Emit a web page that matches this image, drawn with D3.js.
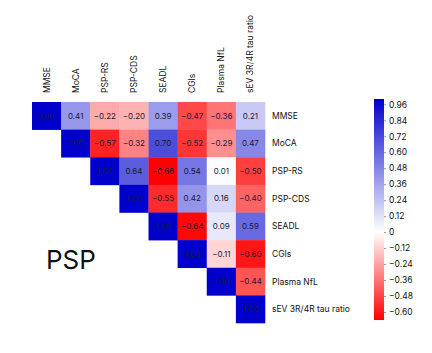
<!DOCTYPE html>
<html>
<head>
<meta charset="utf-8">
<script src="https://cdn.jsdelivr.net/npm/d3@7"></script>
<style>
  body { margin: 0; background: #fff; }
  text { font-family: Inter, "Liberation Sans", sans-serif; }
</style>
</head>
<body>
<svg width="432" height="353"></svg>
<script>
// variables in order
const vars = ['MMSE', 'MoCA', 'PSP-RS', 'PSP-CDS', 'SEADL', 'CGIs', 'Plasma NfL', 'sEV 3R/4R tau ratio'];

// upper triangle rows (row i starts at column i)
const corrRows = [
    [1.00, 0.41, -0.22, -0.20, 0.39, -0.47, -0.36, 0.21],
    [1.00, -0.57, -0.32, 0.70, -0.52, -0.29, 0.47],
    [1.00, 0.64, -0.66, 0.54, 0.01, -0.50],
    [1.00, -0.55, 0.42, 0.16, -0.40],
    [1.00, -0.64, 0.09, 0.59],
    [1.00, -0.11, -0.60],
    [1.00, -0.44],
    [1.00]
];

const cbTicks = [0.96, 0.84, 0.72, 0.60, 0.48, 0.36, 0.24, 0.12, 0, -0.12, -0.24, -0.36, -0.48, -0.60];

let svg = d3.select('svg');

let cells = [];
corrRows.forEach((row, i) => {
    row.forEach((v, k) => {
        cells.push({ r: vars[i], c: vars[i + k], v: v });
    });
});

let x = d3.scaleBand().domain(vars).range([32, 265]);
let y = d3.scaleBand().domain(vars).range([102, 323]);

const color = d3.scaleLinear()
    .domain([-0.66, 0, 1.0])
    .range(['rgb(255,0,0)', 'rgb(255,255,255)', 'rgb(0,0,205)']);

const fmt = v => d3.format('.2f')(v).replace('-', '\u2212');

let grid = svg.append('g');

grid.selectAll('rect')
    .data(cells)
    .enter().append('rect')
    .attr('x', d => x(d.c))
    .attr('y', d => y(d.r))
    .attr('width', x.bandwidth() + 0.3)
    .attr('height', y.bandwidth() + 0.3)
    .attr('fill', d => color(d.v));

grid.selectAll('text.val')
    .data(cells)
    .enter().append('text')
    .attr('class', 'val')
    .attr('x', d => x(d.c) + x.bandwidth() / 2)
    .attr('y', d => y(d.r) + y.bandwidth() / 2)
    .attr('dy', '0.35em')
    .attr('text-anchor', 'middle')
    .attr('font-size', 8)
    .attr('fill', '#1a1a33')
    .text(d => fmt(d.v));

// column labels (rotated)
svg.append('g').selectAll('text')
    .data(vars)
    .enter().append('text')
    .attr('transform', d => `translate(${x(d) + x.bandwidth() / 2 + 3},93) rotate(-90)`)
    .attr('font-size', 8.5)
    .attr('fill', '#111')
    .text(d => d);

// row labels
svg.append('g').selectAll('text')
    .data(vars)
    .enter().append('text')
    .attr('x', 272)
    .attr('y', d => y(d) + y.bandwidth() / 2)
    .attr('dy', '0.35em')
    .attr('font-size', 8.5)
    .attr('fill', '#111')
    .text(d => d);

// colorbar
let cbY = d3.scaleLinear().domain([-0.66, 1.0]).range([320, 99]);
let defs = svg.append('defs');
let grad = defs.append('linearGradient')
    .attr('id', 'cbgrad')
    .attr('x1', 0).attr('y1', 1).attr('x2', 0).attr('y2', 0);
[-0.66, 0, 1.0].forEach(v => {
    grad.append('stop')
        .attr('offset', (v + 0.66) / 1.66)
        .attr('stop-color', color(v));
});
svg.append('rect')
    .attr('x', 374)
    .attr('y', 99)
    .attr('width', 10)
    .attr('height', 221)
    .attr('fill', 'url(#cbgrad)');

let cbAxis = d3.axisRight(cbY)
    .tickValues(cbTicks)
    .tickSize(2)
    .tickFormat(v => v === 0 ? '0' : fmt(v));

let cbG = svg.append('g')
    .attr('transform', 'translate(384,0)')
    .call(cbAxis);
cbG.select('.domain').remove();
cbG.selectAll('line').attr('stroke', '#999');
cbG.selectAll('text')
    .attr('font-size', 8.5)
    .attr('fill', '#111')
    .attr('x', 5)
    .style('font-family', 'Inter, "Liberation Sans", sans-serif');

// title
svg.append('text')
    .attr('x', 46)
    .attr('y', 269)
    .attr('font-size', 26)
    .attr('fill', '#111')
    .text('PSP');
</script>
</body>
</html>
